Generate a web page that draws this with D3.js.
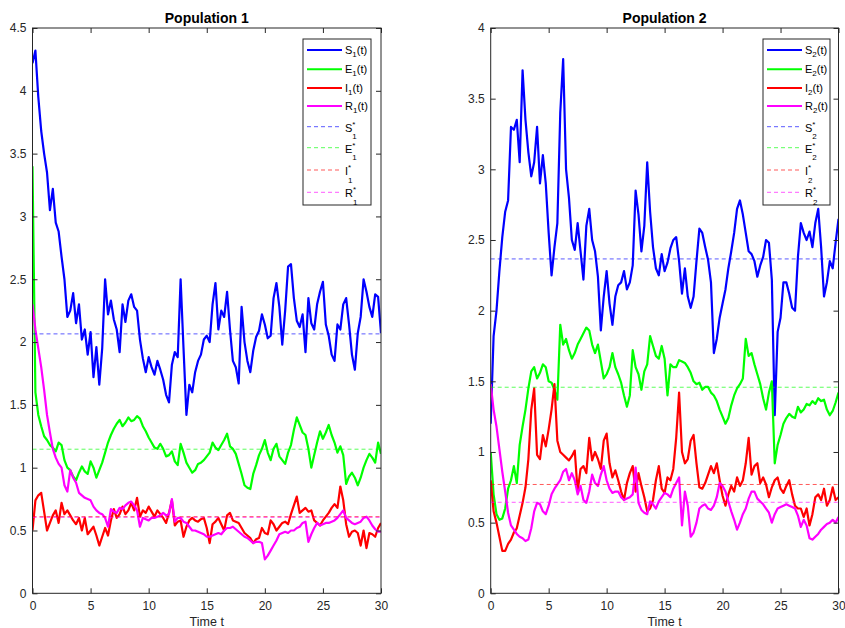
<!DOCTYPE html>
<html>
<head>
<meta charset="utf-8">
<script src="https://cdn.jsdelivr.net/npm/d3@7"></script>
<style>
  body { margin: 0; background: #fff; }
  svg { font-family: "Liberation Sans", Arial, sans-serif; }
</style>
</head>
<body>
<div id="container"></div>
<script>
const width = 845;
const height = 628;

// sample grid: t = 0, 0.25, ..., 30
const time = d3.range(0, 30.001, 0.25);
const xTicks = [0, 5, 10, 15, 20, 25, 30];
const names = ["S", "E", "I", "R"];
const colors = ["#0000ff", "#00ff00", "#ff0000", "#ff00ff"];

// population 1
const S1 = [4.22, 4.32, 3.95, 3.68, 3.5, 3.35, 3.05, 3.22, 2.95, 2.88,
  2.68, 2.5, 2.2, 2.25, 2.39, 2.15, 2.3, 2.02, 2.1, 1.9,
  2.08, 1.72, 1.96, 1.66, 1.95, 2.5, 2.22, 2.33, 2.18, 2.1,
  1.92, 2.3, 2.16, 2.33, 2.38, 2.28, 2.25, 2.02, 1.87, 1.76,
  1.88, 1.8, 1.74, 1.85, 1.78, 1.7, 1.58, 1.52, 1.82, 1.92,
  1.88, 2.5, 1.95, 1.42, 1.66, 1.6, 1.76, 1.85, 1.9, 2.02,
  2.05, 2.0, 2.3, 2.47, 2.1, 2.25, 2.2, 2.4, 2.1, 1.85,
  1.8, 1.67, 2.28, 2.0, 1.85, 1.76, 1.93, 2.04, 2.09, 2.22,
  2.14, 2.03, 2.05, 2.35, 2.47, 2.28, 1.98, 2.25, 2.6, 2.62,
  2.35, 2.17, 2.12, 2.22, 1.92, 2.35, 2.15, 2.1, 2.3, 2.4,
  2.48, 2.14, 2.05, 1.9, 1.85, 2.14, 2.1, 2.3, 2.35, 2.14,
  1.9, 1.78, 2.07, 2.2, 2.5, 2.4, 2.28, 2.2, 2.38, 2.36,
  2.07];
const E1 = [3.4, 1.6, 1.42, 1.33, 1.25, 1.22, 1.18, 1.16, 1.13, 1.2,
  1.18, 1.06, 1.0, 0.98, 0.93, 0.9, 0.96, 1.01, 0.97, 0.95,
  1.05, 1.0, 0.92, 0.98, 1.04, 1.12, 1.2, 1.26, 1.31, 1.35,
  1.38, 1.33, 1.36, 1.4, 1.37, 1.38, 1.41, 1.39, 1.33, 1.29,
  1.24, 1.2, 1.16, 1.15, 1.19, 1.15, 1.09, 1.1, 1.13, 1.05,
  1.02, 1.19, 1.12, 1.04, 1.0, 0.96, 0.98, 1.03, 1.04, 1.06,
  1.09, 1.12, 1.2, 1.16, 1.14, 1.18, 1.22, 1.27, 1.17, 1.15,
  1.11, 1.03, 0.95, 0.86, 0.84, 0.83, 0.95, 1.02, 1.1, 1.15,
  1.22, 1.12, 1.06, 1.15, 1.19, 1.09, 1.06, 1.03, 1.12, 1.18,
  1.3, 1.4, 1.34, 1.28, 1.26, 1.15, 1.0, 1.1, 1.2, 1.29,
  1.23, 1.28, 1.34, 1.26, 1.2, 1.12, 1.17, 1.1, 0.87, 0.93,
  0.96, 0.92, 0.86, 0.92, 1.0, 1.06, 1.11, 1.08, 1.04, 1.2,
  1.11];
const I1 = [0.5, 0.74, 0.78, 0.8, 0.65, 0.5, 0.56, 0.62, 0.66, 0.56,
  0.72, 0.63, 0.66, 0.62, 0.58, 0.55, 0.6, 0.5, 0.6, 0.47,
  0.5, 0.53, 0.46, 0.38, 0.45, 0.52, 0.46, 0.58, 0.67, 0.6,
  0.63, 0.69, 0.63, 0.66, 0.72, 0.66, 0.76, 0.61, 0.66, 0.64,
  0.69, 0.65, 0.61, 0.66, 0.63, 0.6, 0.56, 0.64, 0.74, 0.54,
  0.57, 0.58, 0.45, 0.53, 0.58, 0.6, 0.58, 0.57, 0.59, 0.6,
  0.52, 0.4, 0.55, 0.57, 0.6, 0.55, 0.5, 0.62, 0.64, 0.58,
  0.57, 0.56, 0.52, 0.48, 0.46, 0.44, 0.4, 0.43, 0.44, 0.52,
  0.48, 0.47, 0.58, 0.55, 0.5, 0.53, 0.56, 0.57, 0.55, 0.63,
  0.7, 0.77, 0.64, 0.66, 0.68, 0.65, 0.66, 0.58, 0.56, 0.54,
  0.58, 0.61, 0.64, 0.68, 0.71, 0.68, 0.85, 0.74, 0.55, 0.45,
  0.49, 0.5, 0.48, 0.38, 0.5, 0.36, 0.48, 0.47, 0.45, 0.52,
  0.56];
const R1 = [2.3, 2.1, 1.95, 1.8, 1.62, 1.42, 1.28, 1.15, 1.08, 1.03,
  1.0, 0.86, 0.81, 0.98, 0.92, 0.88, 0.8, 0.78, 0.76, 0.75,
  0.74, 0.69, 0.66, 0.64, 0.63, 0.6, 0.53, 0.67, 0.65, 0.64,
  0.68, 0.67, 0.7, 0.72, 0.73, 0.7, 0.66, 0.53, 0.6, 0.59,
  0.58, 0.6, 0.6, 0.61, 0.62, 0.64, 0.62, 0.63, 0.75, 0.57,
  0.6, 0.6, 0.57, 0.56, 0.53, 0.5, 0.5, 0.49, 0.48, 0.47,
  0.45, 0.45, 0.46, 0.47, 0.48, 0.47, 0.5, 0.52, 0.52, 0.53,
  0.51, 0.49, 0.47, 0.45, 0.44, 0.42, 0.4, 0.41, 0.41, 0.4,
  0.27, 0.3, 0.34, 0.38, 0.42, 0.47, 0.48, 0.49, 0.48, 0.5,
  0.5, 0.52, 0.53, 0.56, 0.57, 0.41, 0.47, 0.52, 0.56, 0.54,
  0.55, 0.56, 0.56, 0.57, 0.58, 0.6, 0.63, 0.66, 0.6, 0.58,
  0.56, 0.55, 0.56, 0.57, 0.6, 0.61, 0.58, 0.54, 0.51, 0.49,
  0.49];
const eq1 = [2.065, 1.147, 0.61, 0.605];

// population 2
const S2 = [1.2, 1.82, 2.0, 2.28, 2.52, 2.7, 2.78, 3.3, 3.28, 3.35,
  3.05, 3.7, 3.35, 3.12, 2.95, 3.05, 3.3, 2.9, 3.1, 2.9,
  2.55, 2.25, 2.45, 2.62, 3.4, 3.78, 3.0, 2.8, 2.5, 2.43,
  2.62, 2.42, 2.22, 2.6, 2.72, 2.5, 2.42, 2.24, 1.86, 2.1,
  2.28, 2.05, 1.9, 2.1, 2.18, 2.2, 2.28, 2.15, 2.2, 2.32,
  2.85, 2.68, 2.42, 2.6, 3.05, 2.7, 2.45, 2.3, 2.25, 2.4,
  2.28, 2.34, 2.44, 2.5, 2.52, 2.35, 2.12, 2.3, 2.1, 2.02,
  2.1, 2.35, 2.58, 2.55, 2.45, 2.36, 2.2, 1.7, 1.8, 1.95,
  2.05, 2.15, 2.3, 2.42, 2.55, 2.72, 2.78, 2.68, 2.55, 2.42,
  2.4, 2.35, 2.24, 2.32, 2.38, 2.5, 2.48, 2.22, 1.26, 1.85,
  1.95, 2.2, 2.2, 2.12, 2.02, 2.0, 2.38, 2.62, 2.55, 2.5,
  2.56, 2.45, 2.62, 2.72, 2.45, 2.1, 2.2, 2.35, 2.3, 2.48,
  2.65];
const E2 = [1.0, 0.7, 0.56, 0.52, 0.53, 0.6, 0.74, 0.8, 0.9, 0.78,
  1.05, 1.18, 1.3, 1.45, 1.57, 1.6, 1.52, 1.56, 1.62, 1.6,
  1.5, 1.49, 1.44, 1.37, 1.9, 1.76, 1.8, 1.72, 1.66, 1.7,
  1.76, 1.8, 1.84, 1.88, 1.86, 1.76, 1.7, 1.76, 1.64, 1.52,
  1.55, 1.6, 1.7, 1.6, 1.55, 1.49, 1.4, 1.32, 1.4, 1.72,
  1.6, 1.55, 1.44, 1.57, 1.62, 1.82, 1.75, 1.68, 1.66, 1.75,
  1.66, 1.4, 1.62, 1.6, 1.6, 1.65, 1.64, 1.63, 1.6, 1.56,
  1.5, 1.48, 1.49, 1.44, 1.46, 1.46, 1.42, 1.4, 1.36, 1.3,
  1.25, 1.2, 1.24, 1.33, 1.4, 1.45, 1.48, 1.52, 1.8, 1.68,
  1.7, 1.62, 1.55, 1.48, 1.38, 1.3, 1.42, 1.5, 0.92, 1.05,
  1.12, 1.2, 1.24, 1.27, 1.25, 1.24, 1.32, 1.28, 1.3, 1.34,
  1.33, 1.36, 1.34, 1.38, 1.36, 1.37, 1.3, 1.26, 1.29, 1.35,
  1.42];
const I2 = [0.8, 0.58, 0.5, 0.4, 0.3, 0.3, 0.35, 0.38, 0.43, 0.46,
  0.55, 0.64, 0.75, 0.95, 1.3, 1.45, 0.98, 0.95, 1.12, 1.04,
  1.16, 1.3, 1.48, 1.08, 1.0, 0.98, 0.96, 0.94, 0.97, 1.01,
  0.72, 0.88, 0.9, 0.85, 1.1, 0.94, 1.0, 0.95, 0.88, 1.08,
  1.13, 0.92, 0.82, 0.87, 0.8, 0.72, 0.66, 0.78, 0.85, 0.9,
  0.72, 0.85, 0.76, 0.68, 0.58, 0.6, 0.66, 0.8, 0.9, 0.74,
  0.71, 0.82, 0.8, 0.88, 1.1, 1.42, 1.0, 0.92, 0.95, 1.08,
  1.12, 0.92, 0.75, 0.74, 0.78, 0.84, 0.9, 0.85, 0.92, 0.8,
  0.69, 0.62, 0.7, 0.76, 0.72, 0.82, 0.76, 0.8, 0.92, 1.1,
  0.84, 0.9, 0.92, 0.78, 0.82, 0.77, 0.68, 0.75, 0.8, 0.82,
  0.74, 0.71, 0.76, 0.8, 0.7, 0.62, 0.6, 0.6, 0.54, 0.6,
  0.48, 0.56, 0.68, 0.7, 0.66, 0.74, 0.62, 0.66, 0.75, 0.66,
  0.68];
const R2 = [1.48, 1.3, 1.18, 1.02, 0.86, 0.72, 0.57, 0.48, 0.45, 0.42,
  0.4, 0.39, 0.37, 0.38, 0.46, 0.58, 0.64, 0.63, 0.58, 0.56,
  0.62, 0.7, 0.74, 0.77, 0.8, 0.86, 0.88, 0.8, 0.85, 0.8,
  0.7, 0.76, 0.66, 0.64, 0.72, 0.84, 0.78, 0.76, 0.84, 0.9,
  0.8, 0.74, 0.71, 0.72, 0.72, 0.68, 0.66, 0.67, 0.68, 0.7,
  0.89, 0.64, 0.59, 0.57, 0.56, 0.65, 0.63, 0.6, 0.65, 0.68,
  0.71, 0.7, 0.68, 0.74, 0.78, 0.82, 0.48, 0.72, 0.62, 0.4,
  0.43, 0.5, 0.6, 0.62, 0.63, 0.6, 0.59, 0.62, 0.68, 0.78,
  0.76, 0.72, 0.65, 0.58, 0.52, 0.45, 0.5, 0.56, 0.6, 0.67,
  0.72, 0.72, 0.67, 0.65, 0.63, 0.6, 0.57, 0.5, 0.56, 0.6,
  0.61, 0.62, 0.63, 0.62, 0.61, 0.6, 0.55, 0.47, 0.52, 0.48,
  0.39, 0.38, 0.4, 0.42, 0.45, 0.47, 0.49, 0.5, 0.52, 0.5,
  0.54];
const eq2 = [2.366, 1.458, 0.77, 0.644];

const plotTop = 28, plotBottom = 593.3;
const panels = [
  {title: "Population 1", idx: "1", yMax: 4.5, x0: 32.5, x1: 381,
   series: [S1, E1, I1, R1], eq: eq1, legX: 303, legW: 68},
  {title: "Population 2", idx: "2", yMax: 4, x0: 490.7, x1: 838.5,
   series: [S2, E2, I2, R2], eq: eq2, legX: 763, legW: 67}
];

const svg = d3.select("div#container").append("svg")
    .attr("width", width)
    .attr("height", height);

const axisColor = "#262626";

panels.forEach(function(p, k) {
    const xScale = d3.scaleLinear().domain([0, 30]).range([p.x0, p.x1]);
    const yScale = d3.scaleLinear().domain([0, p.yMax]).range([plotBottom, plotTop]);
    const yTicks = d3.range(0, p.yMax + 0.001, 0.5);

    const g = svg.append("g");

    svg.append("clipPath").attr("id", "clip" + k)
      .append("rect")
        .attr("x", p.x0).attr("y", plotTop)
        .attr("width", p.x1 - p.x0).attr("height", plotBottom - plotTop);

    const plot = g.append("g").attr("clip-path", "url(#clip" + k + ")");

    const line = d3.line()
        .x(function(d, i) { return xScale(time[i]); })
        .y(function(d) { return yScale(d); });

    // trajectories
    p.series.forEach(function(vals, j) {
        plot.append("path")
            .attr("d", line(vals))
            .attr("fill", "none")
            .attr("stroke", colors[j])
            .attr("stroke-width", 2.2)
            .attr("stroke-linejoin", "round");
    });

    // equilibrium values
    p.eq.forEach(function(v, j) {
        plot.append("line")
            .attr("x1", xScale(0)).attr("x2", xScale(30))
            .attr("y1", yScale(v)).attr("y2", yScale(v))
            .attr("stroke", colors[j])
            .attr("stroke-opacity", 0.65)
            .attr("stroke-width", 1)
            .attr("stroke-dasharray", "4,3");
    });

    // axes (ticks inward, box on)
    const styleAxis = function(sel) {
        sel.selectAll(".domain").remove();
        sel.selectAll(".tick line").attr("stroke", axisColor);
        sel.selectAll("text")
            .attr("fill", axisColor)
            .style("font-size", "12px")
            .style("font-family", "'Liberation Sans', Arial, sans-serif");
    };

    g.append("g")
        .attr("transform", "translate(0," + plotBottom + ")")
        .call(d3.axisBottom(xScale).tickValues(xTicks).tickSize(-5).tickPadding(8)
            .tickFormat(function(d) { return d; }))
        .call(styleAxis);
    g.append("g")
        .attr("transform", "translate(0," + plotTop + ")")
        .call(d3.axisTop(xScale).tickValues(xTicks).tickSize(-5).tickFormat(""))
        .call(styleAxis);
    g.append("g")
        .attr("transform", "translate(" + p.x0 + ",0)")
        .call(d3.axisLeft(yScale).tickValues(yTicks).tickSize(-5).tickPadding(6)
            .tickFormat(function(d) { return String(d); }))
        .call(styleAxis);
    g.append("g")
        .attr("transform", "translate(" + p.x1 + ",0)")
        .call(d3.axisRight(yScale).tickValues(yTicks).tickSize(-5).tickFormat(""))
        .call(styleAxis);

    g.append("rect")
        .attr("x", p.x0).attr("y", plotTop)
        .attr("width", p.x1 - p.x0).attr("height", plotBottom - plotTop)
        .attr("fill", "none")
        .attr("stroke", axisColor)
        .attr("stroke-width", 1);

    // title and x label
    g.append("text")
        .attr("x", (p.x0 + p.x1) / 2).attr("y", 22.5)
        .attr("text-anchor", "middle")
        .style("font-size", "14px").style("font-weight", "bold")
        .attr("fill", "#000")
        .text(p.title);
    g.append("text")
        .attr("x", (p.x0 + p.x1) / 2).attr("y", 626)
        .attr("text-anchor", "middle")
        .style("font-size", "12.5px")
        .attr("fill", axisColor)
        .text("Time t");

    // legend
    const legTop = 39, legH = 166;
    const rowY = [11, 30.3, 49, 67, 87.7, 108.7, 131, 153.3];
    const leg = g.append("g");
    leg.append("rect")
        .attr("x", p.legX).attr("y", legTop)
        .attr("width", p.legW).attr("height", legH)
        .attr("fill", "#fff")
        .attr("stroke", axisColor)
        .attr("stroke-width", 1);

    rowY.forEach(function(ry, r) {
        const j = r % 4;
        const star = r >= 4;
        const y = legTop + ry;
        leg.append("line")
            .attr("x1", p.legX + 4).attr("x2", p.legX + 39)
            .attr("y1", y).attr("y2", y)
            .attr("stroke", colors[j])
            .attr("stroke-width", star ? 1 : 2)
            .attr("stroke-opacity", star ? 0.65 : 1)
            .attr("stroke-dasharray", star ? "4,3" : null);

        const tx = p.legX + 42;
        const base = star ? y + 5 : y + 3.8;
        const main = leg.append("text")
            .attr("x", tx).attr("y", base)
            .style("font-size", "11px").attr("fill", "#000")
            .text(names[j]);
        const w = main.node().getComputedTextLength();
        if (star) {
            leg.append("text")
                .attr("x", tx + w).attr("y", base - 5)
                .style("font-size", "8px").attr("fill", "#000")
                .text("*");
            leg.append("text")
                .attr("x", tx + w).attr("y", base + 7.5)
                .style("font-size", "8px").attr("fill", "#000")
                .text(p.idx);
        } else {
            const sub = leg.append("text")
                .attr("x", tx + w).attr("y", base + 3)
                .style("font-size", "8px").attr("fill", "#000")
                .text(p.idx);
            const sw = sub.node().getComputedTextLength();
            leg.append("text")
                .attr("x", tx + w + sw).attr("y", base)
                .style("font-size", "11px").attr("fill", "#000")
                .text("(t)");
        }
    });
});
</script>
</body>
</html>
